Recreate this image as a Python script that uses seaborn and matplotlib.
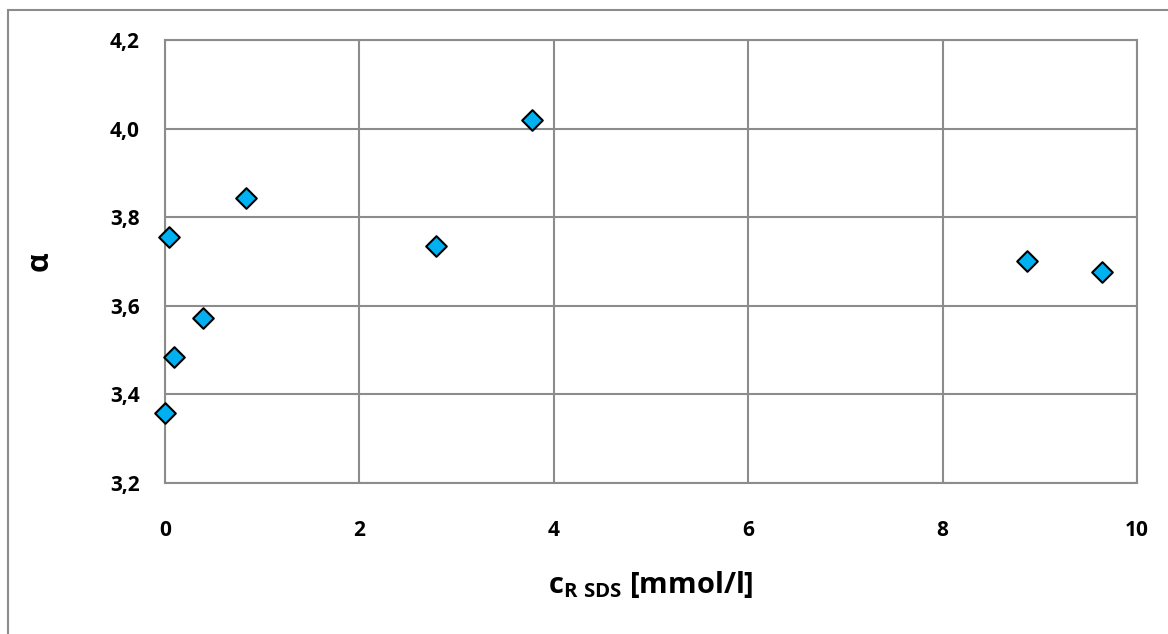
import matplotlib
matplotlib.use("Agg")
import matplotlib.pyplot as plt
import seaborn as sns
import pandas as pd
from matplotlib.patches import Rectangle

c_sds = [0.00, 0.04, 0.09, 0.39, 0.83, 2.79, 3.78, 8.87, 9.64]
alpha_vals = [3.358, 3.755, 3.484, 3.573, 3.843, 3.736, 4.019, 3.701, 3.677]
x_ticks = [0, 2, 4, 6, 8, 10]
y_ticks = [3.2, 3.4, 3.6, 3.8, 4.0, 4.2]
y_tick_labels = ["3,2", "3,4", "3,6", "3,8", "4,0", "4,2"]

sns.set_theme(style="white")
plt.rcParams['font.family'] = ['Open Sans', 'DejaVu Sans']
plt.rcParams['mathtext.fontset'] = 'custom'
plt.rcParams['mathtext.rm'] = 'Open Sans:bold'
plt.rcParams['mathtext.it'] = 'Open Sans:bold'
plt.rcParams['mathtext.bf'] = 'Open Sans:bold'

df = pd.DataFrame({"c": c_sds, "a": alpha_vals})

fig = plt.figure(figsize=(11.68, 6.34), dpi=100)
ax = fig.add_axes([165/1168, 1-483/634, (1137-165)/1168, (483-40)/634])

grid_col = "#8c8c8c"
sns.scatterplot(data=df, x="c", y="a", ax=ax, marker="D", s=110,
                color="#00B0F0", edgecolor="black", linewidth=1.5, zorder=3,
                clip_on=False)

ax.set_xlim(0, 10)
ax.set_ylim(3.2, 4.2)
ax.set_xticks(x_ticks)
ax.set_xticklabels([str(t) for t in x_ticks])
ax.set_yticks(y_ticks)
ax.set_yticklabels(y_tick_labels)
ax.grid(True, color=grid_col, linewidth=1.5)
ax.set_axisbelow(True)
for sp in ax.spines.values():
    sp.set_color(grid_col)
    sp.set_linewidth(1.5)
ax.tick_params(axis='both', length=0, labelsize=15, labelcolor="black")
ax.tick_params(axis='x', pad=27)
ax.tick_params(axis='y', pad=18)
for lab in ax.get_xticklabels() + ax.get_yticklabels():
    lab.set_fontweight("bold")

ax.set_xlabel(r"c$_{\mathrm{R\ SDS}}$ [mmol/l]", fontsize=21, fontweight="bold",
              labelpad=20, color="black")
ax.set_ylabel("α", fontsize=22, fontweight="bold", labelpad=40, color="black")

fig.patches.append(Rectangle((8/1168, -0.05), 1.2, 1 - 10/634 + 0.05,
                             transform=fig.transFigure, fill=False,
                             edgecolor=grid_col, linewidth=1.5))

fig.savefig("out.png", dpi=100)
